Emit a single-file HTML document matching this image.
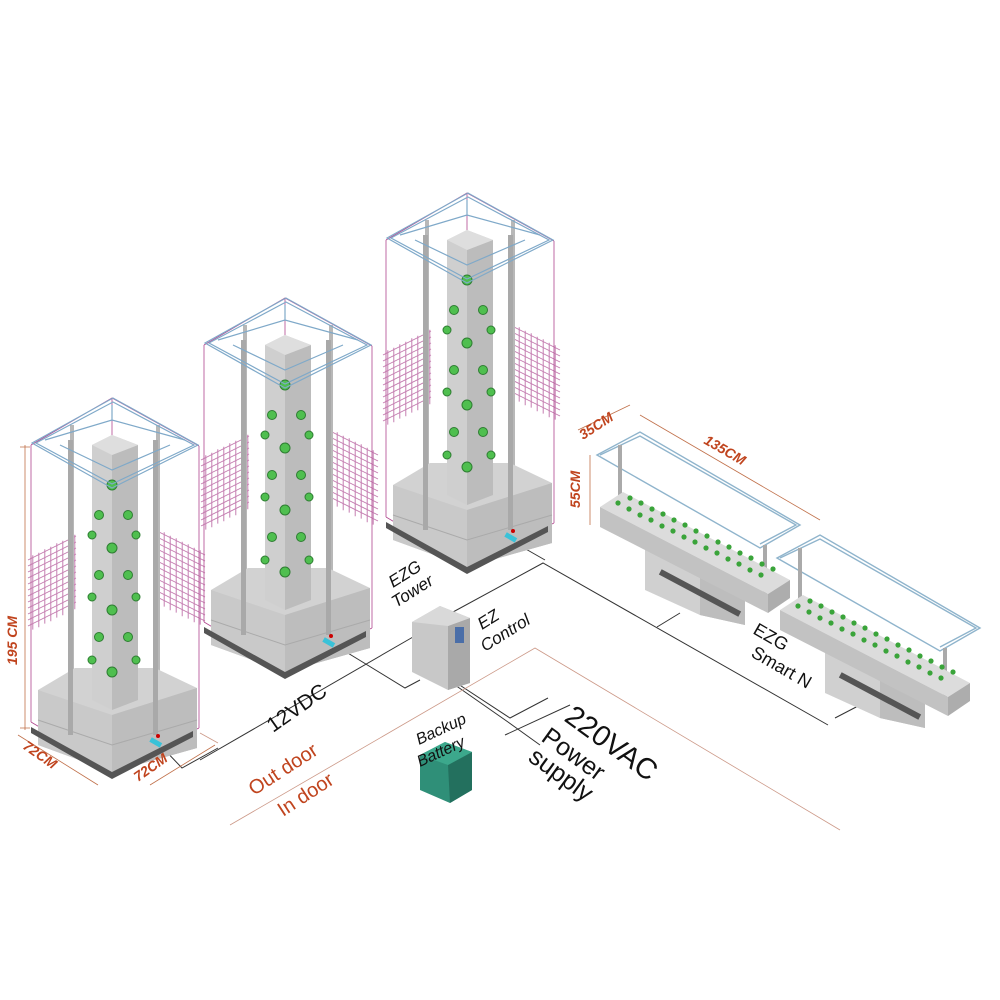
<!DOCTYPE html>
<html><head><meta charset="utf-8"><style>
html,body{margin:0;padding:0;background:#fff;}
svg{display:block;}
text{font-family:"Liberation Sans",Arial,sans-serif;}
</style></head><body>
<svg width="1000" height="1000" viewBox="0 0 1000 1000" xmlns="http://www.w3.org/2000/svg">
<defs>
<g id="mesh" stroke="#b4589a" stroke-width="0.8" fill="none" opacity="0.8">
  <path d="M0,0 l40,-20 M0,5 l40,-20 M0,10 l40,-20 M0,15 l40,-20 M0,20 l40,-20 M0,25 l40,-20 M0,30 l40,-20 M0,35 l40,-20 M0,40 l40,-20 M0,45 l40,-20 M0,50 l40,-20 M0,55 l40,-20"/>
  <path d="M4,-4 v62 M9,-6 v62 M14,-9 v62 M19,-11 v62 M24,-14 v62 M29,-16 v62 M34,-19 v62 M39,-21 v62"/>
</g>
<g id="tower">
  <g stroke="#b0468e" stroke-width="0.8" fill="none">
    <path d="M31,445 V722 M112,490 V770 M199,446 V728"/>
    <path d="M31,722 L112,770 L199,728"/>
    <path d="M31,445 L112,398 L199,446"/>
    <path d="M112,398 V440"/>
  </g>
  <use href="#mesh" transform="translate(28,560) scale(1.2)"/>
  <use href="#mesh" transform="translate(205,555) scale(-1.2,1.2)"/>
  <rect x="70" y="425" width="4" height="300" fill="#b8b8b8"/>
  <rect x="156" y="425" width="4" height="300" fill="#b8b8b8"/>
  <polygon points="38,690 75,668 155,668 197,688 197,748 112,772 38,745" fill="#d2d2d2"/>
  <polygon points="38,690 112,715 197,688 197,748 112,772 38,745" fill="#c9c9c9"/>
  <polygon points="112,715 197,688 197,748 112,772" fill="#bdbdbd"/>
  <path d="M38,720 L112,745 L197,720" stroke="#aaa" fill="none"/>
  <polygon points="31,727 112,772 193,731 193,737 112,779 31,733" fill="#555"/>
  <polygon points="92,445 112,435 138,445 138,700 112,710 92,700" fill="#cfcfcf"/>
  <polygon points="112,455 138,445 138,700 112,710" fill="#bcbcbc"/>
  <polygon points="92,445 112,435 138,445 112,455" fill="#dedede"/>
  <g fill="#4fbf4f" stroke="#2e7d32" stroke-width="1">
    <circle cx="112" cy="485" r="5"/>
    <circle cx="99" cy="515" r="4.5"/><circle cx="128" cy="515" r="4.5"/>
    <circle cx="92" cy="535" r="4"/><circle cx="136" cy="535" r="4"/>
    <circle cx="112" cy="548" r="5"/>
    <circle cx="99" cy="575" r="4.5"/><circle cx="128" cy="575" r="4.5"/>
    <circle cx="92" cy="597" r="4"/><circle cx="136" cy="597" r="4"/>
    <circle cx="112" cy="610" r="5"/>
    <circle cx="99" cy="637" r="4.5"/><circle cx="128" cy="637" r="4.5"/>
    <circle cx="92" cy="660" r="4"/><circle cx="136" cy="660" r="4"/>
    <circle cx="112" cy="672" r="5"/>
  </g>
  <rect x="68" y="440" width="5" height="295" fill="#a9a9a9"/>
  <rect x="153" y="440" width="5" height="295" fill="#a9a9a9"/>
  <g fill="none" stroke="#7fa9c9" stroke-width="1.2">
    <polygon points="32,443 113,398 198,445 112,488"/>
    <polygon points="36,443 113,402 194,445 112,484"/>
    <path d="M45,440 L112,420 L185,440 M112,420 V405 M60,445 L112,470 L170,445"/>
  </g>
  <rect x="150" y="740" width="12" height="5" fill="#3ac2d8" transform="rotate(30 156 742)"/>
  <circle cx="158" cy="736" r="2" fill="#c00"/>
</g>
<g id="unit">
  <g fill="none" stroke="#8fb4cc" stroke-width="1.4">
    <path d="M597,455 L640,432 L800,525 L760,548 Z"/>
    <path d="M600,455 L640,436 L796,525 L760,544"/>
  </g>
  <path d="M620,445 V505 M765,545 V600" stroke="#aaa" stroke-width="4"/>
  <polygon points="645,548 700,575 745,600 745,625 700,615 645,580" fill="#c4c4c4"/>
  <polygon points="645,540 700,568 700,615 645,590" fill="#d0d0d0"/>
  <polygon points="700,568 745,590 745,625 700,615" fill="#bdbdbd"/>
  <rect x="655" y="590" width="90" height="6" fill="#555" transform="rotate(28 700 593)"/>
  <polygon points="600,507 623,492 790,580 768,594" fill="#dcdcdc"/>
  <polygon points="600,507 768,594 768,613 600,527" fill="#c2c2c2"/>
  <polygon points="768,594 790,580 790,598 768,613" fill="#adadad"/>
  <g fill="#3aa43a">
    <circle cx="618" cy="503" r="2.6"/><circle cx="630" cy="498" r="2.6"/><circle cx="640" cy="515" r="2.6"/><circle cx="652" cy="509" r="2.6"/><circle cx="662" cy="526" r="2.6"/><circle cx="674" cy="520" r="2.6"/><circle cx="684" cy="537" r="2.6"/><circle cx="696" cy="531" r="2.6"/><circle cx="706" cy="548" r="2.6"/><circle cx="718" cy="542" r="2.6"/><circle cx="728" cy="559" r="2.6"/><circle cx="740" cy="553" r="2.6"/><circle cx="750" cy="570" r="2.6"/><circle cx="762" cy="564" r="2.6"/>
    <circle cx="629" cy="509" r="2.6"/><circle cx="641" cy="503" r="2.6"/><circle cx="651" cy="520" r="2.6"/><circle cx="663" cy="514" r="2.6"/><circle cx="673" cy="531" r="2.6"/><circle cx="685" cy="525" r="2.6"/><circle cx="695" cy="542" r="2.6"/><circle cx="707" cy="536" r="2.6"/><circle cx="717" cy="553" r="2.6"/><circle cx="729" cy="547" r="2.6"/><circle cx="739" cy="564" r="2.6"/><circle cx="751" cy="558" r="2.6"/><circle cx="761" cy="575" r="2.6"/><circle cx="773" cy="569" r="2.6"/>
  </g>
</g>
</defs>

<g stroke="#333" stroke-width="1" fill="none">
  <path d="M200,760 L413,637"/>
  <path d="M453,612 L543,563 L828,725"/>
  <path d="M510,540 L545,560"/>
  <path d="M657,627 L680,613"/>
  <path d="M835,718 L860,705"/>
  <path d="M160,745 L182,768 L218,748"/>
  <path d="M338,647 L405,688 L420,680"/>
  <path d="M452,680 L510,718 L548,698 M455,685 L508,722 M508,722 L540,745"/>
  <path d="M505,735 L570,705"/>
</g>
<g stroke="#c98" stroke-width="0.8" fill="none">
  <path d="M230,825 L535,648 L840,830"/>
  <path d="M200,733 L218,743"/>
</g>

<use href="#tower"/>
<use href="#tower" transform="translate(173,-100)"/>
<use href="#tower" transform="translate(355,-205)"/>

<use href="#unit"/>
<use href="#unit" transform="translate(180,103)"/>

<polygon points="412,622 440,606 470,618 470,683 448,690 412,672" fill="#c8c8c8"/>
<polygon points="448,626 470,618 470,683 448,690" fill="#a9a9a9"/>
<polygon points="412,622 440,606 470,618 448,626" fill="#d9d9d9"/>
<rect x="455" y="627" width="9" height="16" fill="#4a6ea8"/>
<polygon points="420,755 445,742 472,752 472,790 450,803 420,790" fill="#2f8f78"/>
<polygon points="448,765 472,752 472,790 450,803" fill="#23705e"/>
<polygon points="420,755 445,742 472,752 448,765" fill="#3ca88c"/>

<g stroke="#c0704a" stroke-width="0.8" fill="none">
  <path d="M25,445 V730 M20,447 h10 M20,728 h10"/>
  <path d="M18,735 L98,785 M150,785 L215,745"/>
  <path d="M578,430 L630,405 M590,455 V525 M640,415 L820,520"/>
</g>

<g font-style="italic" fill="#c0441e" font-size="14" font-weight="bold">
  <text transform="translate(17,665) rotate(-90)">195 CM</text>
  <text transform="translate(22,748) rotate(35)">72CM</text>
  <text transform="translate(138,782) rotate(-35)">72CM</text>
  <text transform="translate(583,440) rotate(-33)">35CM</text>
  <text transform="translate(703,443) rotate(30)">135CM</text>
  <text transform="translate(580,508) rotate(-90)">55CM</text>
</g>
<g fill="#c0441e" font-size="20">
  <text transform="translate(254,796) rotate(-33)">Out door</text>
  <text transform="translate(283,817) rotate(-33)">In door</text>
</g>
<g fill="#111">
  <text font-size="21" transform="translate(273,733) rotate(-35)">12VDC</text>
  <text font-size="17" font-style="italic" transform="translate(393,588) rotate(-32)">EZG</text>
  <text font-size="17" font-style="italic" transform="translate(396,608) rotate(-32)">Tower</text>
  <text font-size="17" font-style="italic" transform="translate(482,630) rotate(-32)">EZ</text>
  <text font-size="17" font-style="italic" transform="translate(485,652) rotate(-32)">Control</text>
  <text font-size="16" font-style="italic" transform="translate(419,745) rotate(-25)">Backup</text>
  <text font-size="16" font-style="italic" transform="translate(420,767) rotate(-25)">Battery</text>
  <text font-size="29" transform="translate(563,720) rotate(36)">220VAC</text>
  <text font-size="25" transform="translate(540,740) rotate(36)">Power</text>
  <text font-size="25" transform="translate(527,760) rotate(36)">supply</text>
  <text font-size="18" transform="translate(752,633) rotate(30)">EZG</text>
  <text font-size="18" transform="translate(750,656) rotate(30)">Smart N</text>
</g>
</svg>
</body></html>
